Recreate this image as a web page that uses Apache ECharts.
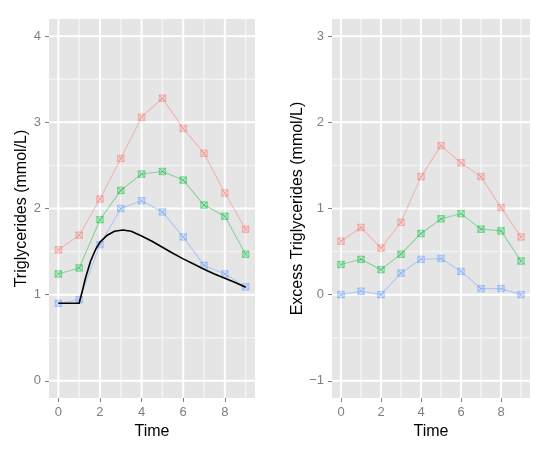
<!DOCTYPE html>
<html>
<head>
<meta charset="utf-8">
<script src="https://cdn.jsdelivr.net/npm/echarts@6/dist/echarts.min.js"></script>
<style>
html, body { margin: 0; padding: 0; background: #ffffff; }
#chart { width: 550px; height: 450px; }
</style>
</head>
<body>
<div id="chart"></div>
<script>
// ---- data ----
const times = [0, 1, 2, 3, 4, 5, 6, 7, 8, 9];
const trigRed   = [1.52, 1.69, 2.11, 2.58, 3.06, 3.28, 2.93, 2.64, 2.18, 1.76];
const trigGreen = [1.24, 1.31, 1.87, 2.21, 2.40, 2.43, 2.33, 2.04, 1.91, 1.47];
const trigBlue  = [0.90, 0.94, 1.58, 2.00, 2.09, 1.96, 1.67, 1.34, 1.24, 1.09];
const curveTimes  = [0, 1, 1.15, 1.3, 1.55, 1.8, 2, 2.35, 2.7, 3.1, 3.5, 4, 4.5, 5, 5.5, 6, 6.5, 7, 7.5, 8, 8.5, 9];
const curveValues = [0.90, 0.90, 1.04, 1.19, 1.39, 1.53, 1.61, 1.69, 1.735, 1.75, 1.735, 1.68, 1.62, 1.55, 1.48, 1.415, 1.355, 1.295, 1.24, 1.19, 1.14, 1.085];
const excessRed   = [0.62, 0.78, 0.54, 0.84, 1.37, 1.73, 1.53, 1.37, 1.01, 0.67];
const excessGreen = [0.35, 0.41, 0.29, 0.47, 0.71, 0.88, 0.94, 0.76, 0.74, 0.39];
const excessBlue  = [0.00, 0.04, 0.00, 0.25, 0.41, 0.42, 0.27, 0.07, 0.07, 0.00];
const xTicks = [0, 2, 4, 6, 8];
const xMinor = [1, 3, 5, 7, 9];
const yTicksLeft = [0, 1, 2, 3, 4];
const yMinorLeft = [0.5, 1.5, 2.5, 3.5];
const yTicksRight = [-1, 0, 1, 2, 3];
const yMinorRight = [-0.5, 0.5, 1.5, 2.5];
const xRange = [-0.45, 9.45];
const yRangeLeft = [-0.2, 4.2];
const yRangeRight = [-1.2, 3.2];

const FONT = '"Liberation Sans", Arial, Helvetica, sans-serif';
const RED = '248,118,109', GREEN = '0,186,56', BLUE = '97,156,255';
const SYMBOL = 'path://M0,0H10V10H0Z M0,0L10,10 M10,0L0,10';
const MAJOR = '#ffffff', MINOR = '#f3f3f3';

function pairs(xs, ys) { return xs.map((x, i) => [x, ys[i]]); }

function axis(gridIndex, range, ticks, name, gap) {
  return {
    type: 'value', gridIndex: gridIndex, min: range[0], max: range[1],
    name: name, nameLocation: 'middle', nameGap: gap,
    nameTextStyle: { fontFamily: FONT, fontSize: 16, color: '#000000' },
    axisLine: { show: false, onZero: false },
    axisTick: { show: true, length: 4, lineStyle: { color: '#7f7f7f', width: 1 }, customValues: ticks },
    axisLabel: { show: true, fontFamily: FONT, fontSize: 13, color: '#7f7f7f', margin: 8, customValues: ticks,
                 formatter: v => (v < 0 ? '\u2212' + Math.abs(v) : String(v)) },
    splitLine: { show: false },
    minorSplitLine: { show: false }
  };
}

// panel grid lines drawn as plain line series through the axes' scales
function gridLine(gi, data, color, width) {
  return {
    type: 'line', xAxisIndex: gi, yAxisIndex: gi, data: data, symbol: 'none',
    lineStyle: { color: color, width: width }, z: 5
  };
}
function gridLines(gi, yRange, xMaj, xMin, yMaj, yMin) {
  const out = [];
  xMin.forEach(v => out.push(gridLine(gi, [[v, yRange[0]], [v, yRange[1]]], MINOR, 1.5)));
  yMin.forEach(v => out.push(gridLine(gi, [[xRange[0], v], [xRange[1], v]], MINOR, 1.5)));
  xMaj.forEach(v => out.push(gridLine(gi, [[v, yRange[0]], [v, yRange[1]]], MAJOR, 2)));
  yMaj.forEach(v => out.push(gridLine(gi, [[xRange[0], v], [xRange[1], v]], MAJOR, 2)));
  return out;
}

function pointSeries(name, gi, data, rgb) {
  return {
    type: 'line', name: name, xAxisIndex: gi, yAxisIndex: gi,
    data: data, symbol: SYMBOL, symbolSize: 6.5, symbolKeepAspect: true, showSymbol: true,
    lineStyle: { color: 'rgba(' + rgb + ',0.4)', width: 1.1 },
    itemStyle: { color: 'rgba(' + rgb + ',0.2)', borderColor: 'rgba(' + rgb + ',0.55)', borderWidth: 0.8 },
    emphasis: { disabled: true }, z: 10
  };
}

const chart = echarts.init(document.getElementById('chart'), null, { renderer: 'canvas' });
chart.setOption({
  backgroundColor: '#ffffff',
  animation: false,
  grid: [
    { left: 49, right: 295, top: 19, bottom: 52, show: true, backgroundColor: '#e5e5e5', borderWidth: 0 },
    { left: 332, right: 20, top: 19, bottom: 52, show: true, backgroundColor: '#e5e5e5', borderWidth: 0 }
  ],
  xAxis: [
    axis(0, xRange, xTicks, 'Time', 22),
    axis(1, xRange, xTicks, 'Time', 22)
  ],
  yAxis: [
    axis(0, yRangeLeft, yTicksLeft, 'Triglycerides (mmol/L)', 19),
    axis(1, yRangeRight, yTicksRight, 'Excess Triglycerides (mmol/L)', 26)
  ],
  series: [].concat(
    gridLines(0, yRangeLeft, xTicks, xMinor, yTicksLeft, yMinorLeft),
    gridLines(1, yRangeRight, xTicks, xMinor, yTicksRight, yMinorRight),
    [
      pointSeries('blue', 0, pairs(times, trigBlue), BLUE),
      pointSeries('green', 0, pairs(times, trigGreen), GREEN),
      pointSeries('red', 0, pairs(times, trigRed), RED),
      {
        type: 'line', name: 'model', xAxisIndex: 0, yAxisIndex: 0,
        data: pairs(curveTimes, curveValues), symbol: 'none', smooth: false,
        lineStyle: { color: '#000000', width: 1.6, join: 'round' }, emphasis: { disabled: true }, z: 11
      },
      pointSeries('blue', 1, pairs(times, excessBlue), BLUE),
      pointSeries('green', 1, pairs(times, excessGreen), GREEN),
      pointSeries('red', 1, pairs(times, excessRed), RED)
    ]
  )
});
</script>
</body>
</html>
